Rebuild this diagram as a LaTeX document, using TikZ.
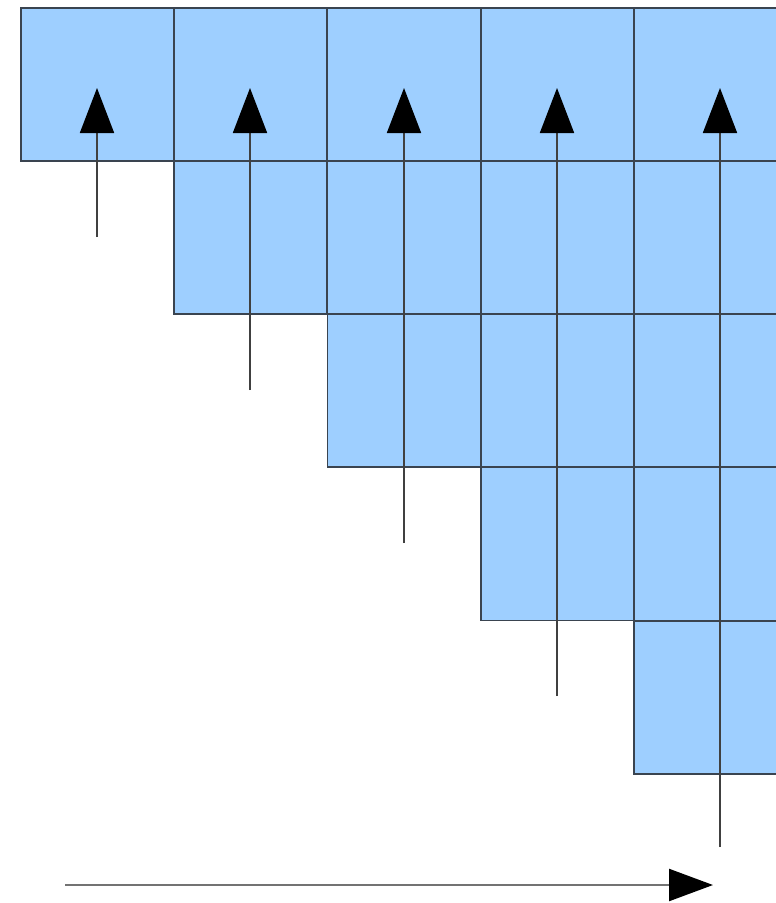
\documentclass[tikz,border=0pt]{standalone}
\usetikzlibrary{arrows.meta}
\definecolor{cellblue}{HTML}{9ECFFF}
\definecolor{cellline}{HTML}{3A4450}
\begin{document}
\begin{tikzpicture}[x=1pt,y=-1pt,
  cell/.style={draw=cellline,line width=1.8pt,fill=cellblue,minimum width=153pt,minimum height=153pt,inner sep=0pt,anchor=north west},
  uparrow/.style={draw=black!75,line width=1.8pt,-{Triangle[length=45pt,width=34pt,color=black,fill=black]}},
  flowarrow/.style={draw=black!55,line width=2.4pt,-{Triangle[length=44pt,width=32pt,color=black,fill=black]}}]
\useasboundingbox (0,0) rectangle (776,903);
\begin{scope}
\clip (0,0) rectangle (776,903);
\foreach \c/\x in {1/20,2/173.3,3/326.6,4/479.9,5/633.2}{
  \foreach \r in {1,...,5}{
    \pgfmathtruncatemacro{\ok}{\r<=\c}
    \ifnum\ok=1
      \node[cell] (c\c-\r) at (\x,{7+(\r-1)*153.2}) {};
    \fi
  }
}
\foreach \i/\x/\y in {1/97/237,2/250/390,3/404/543,4/557/696,5/720/847}{
  \coordinate (s\i) at (\x,\y);
  \coordinate (t\i) at (\x,88);
  \draw[uparrow] (s\i) -- (t\i);
}
\coordinate (hs) at (65,885);
\coordinate (ht) at (713,885);
\draw[flowarrow] (hs) -- (ht);
\end{scope}
\end{tikzpicture}
\end{document}
